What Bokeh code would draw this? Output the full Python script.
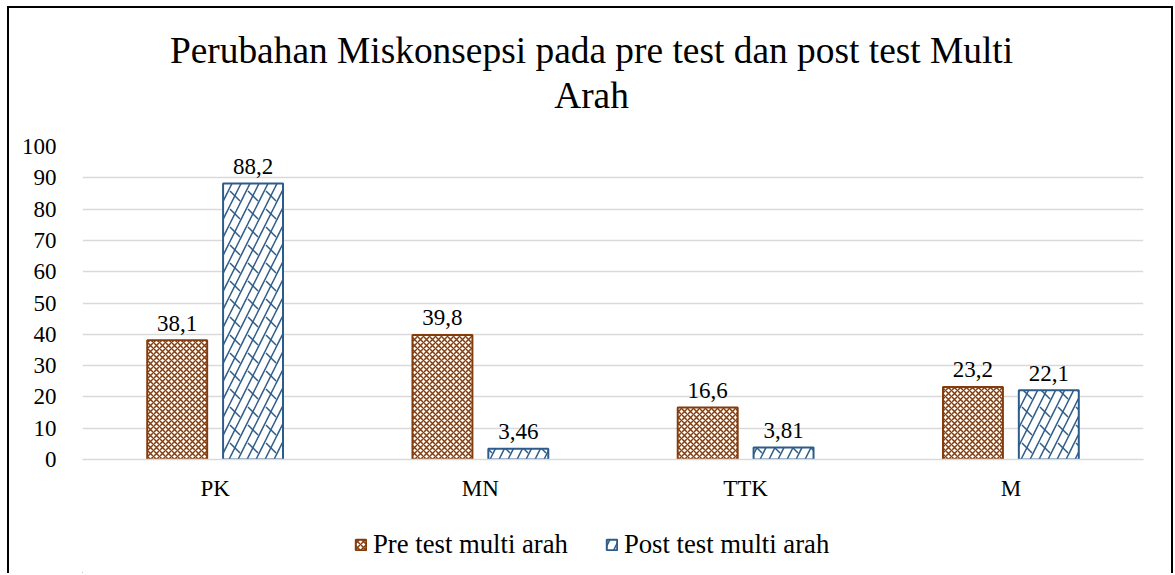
from bokeh.plotting import figure
from bokeh.layouts import column
from bokeh.models import FactorRange, Label, ColumnDataSource, Legend, LegendItem
from bokeh.transform import dodge
from bokeh.core.properties import value
from bokeh.embed import file_html
from bokeh.resources import INLINE

categories = ["PK", "MN", "TTK", "M"]
pre_test = [38.1, 39.8, 16.6, 23.2]
post_test = [88.2, 3.46, 3.81, 22.1]
series_names = ["Pre test multi arah", "Post test multi arah"]
title_lines = ["Perubahan Miskonsepsi pada pre test dan post test Multi", "Arah"]
y_ticks = [0, 10, 20, 30, 40, 50, 60, 70, 80, 90, 100]

FONT = "Liberation Serif"
PRE_C = "#843c0c"
POST_C = "#2e5c8a"
W = 1162

src = ColumnDataSource(dict(
    cat=categories,
    pre=pre_test,
    post=post_test,
    pre_lbl=[f"{v:g}".replace(".", ",") for v in pre_test],
    post_lbl=[f"{v:g}".replace(".", ",") for v in post_test],
))

pre_style = dict(fill_color="white", line_color=PRE_C, line_width=2,
                 hatch_pattern="diagonal_cross", hatch_color=PRE_C, hatch_scale=6,
                 hatch_weight=1.5)
post_style = dict(fill_color="white", line_color=POST_C, line_width=2,
                  hatch_pattern="right_diagonal_line", hatch_color=POST_C, hatch_scale=18,
                  hatch_weight=1.5)


def blank_fig(h):
    # strip whose frame is aligned with the chart frame (page x 82..1143)
    f = figure(width=W, height=h, x_range=(82, 1143), y_range=(0, h),
               x_axis_type=None, y_axis_type=None, output_backend="svg",
               toolbar_location=None, min_border=0)
    f.grid.visible = False
    f.outline_line_color = None
    return f


# ---- title strip ----
top = blank_fig(124)
top.add_layout(Label(x=591, y=82, text=title_lines[0], text_font=FONT,
                     text_font_size="37.4px", text_align="center",
                     text_baseline="alphabetic", text_color="#000000"))
top.add_layout(Label(x=591, y=37, text=title_lines[1], text_font=FONT,
                     text_font_size="37.4px", text_align="center",
                     text_baseline="alphabetic", text_color="#000000"))

# ---- main chart ----
p = figure(x_range=FactorRange(*categories, range_padding=0), y_range=(0, 100),
           frame_width=1061, frame_height=313, output_backend="svg", toolbar_location=None,
           min_border_left=73, min_border_right=28, min_border_top=14, min_border_bottom=47)

p.vbar(x=dodge("cat", -0.143, range=p.x_range), top="pre", width=0.226, source=src, **pre_style)
p.vbar(x=dodge("cat", 0.143, range=p.x_range), top="post", width=0.226, source=src, **post_style)
p.vbar(x=dodge("cat", 0.143, range=p.x_range), top="post", width=0.226, source=src,
       fill_alpha=0, line_alpha=0,
       hatch_pattern="left_diagonal_dash", hatch_color=POST_C, hatch_scale=18,
       hatch_weight=1.5)

p.text(x=dodge("cat", -0.143, range=p.x_range), y="pre", text="pre_lbl", source=src,
       text_font=value(FONT), text_font_size="23px", text_align="center",
       text_baseline="alphabetic", y_offset=-17, text_color="#000000")
p.text(x=dodge("cat", 0.143, range=p.x_range), y="post", text="post_lbl", source=src,
       text_font=value(FONT), text_font_size="23px", text_align="center",
       text_baseline="alphabetic", y_offset=-17, text_color="#000000")

p.yaxis.ticker = y_ticks
p.yaxis.axis_line_color = None
p.yaxis.major_tick_line_color = None
p.yaxis.minor_tick_line_color = None
p.yaxis.major_label_text_font = FONT
p.yaxis.major_label_text_font_size = "23px"
p.yaxis.major_label_text_color = "#000000"
p.yaxis.major_label_standoff = 20

p.xaxis.axis_line_color = "#d9d9d9"
p.xaxis.axis_line_width = 1.5
p.xaxis.major_tick_line_color = None
p.xaxis.minor_tick_line_color = None
p.xaxis.major_label_text_font = FONT
p.xaxis.major_label_text_font_size = "23px"
p.xaxis.major_label_text_color = "#000000"
p.xaxis.major_label_standoff = 10

p.xgrid.grid_line_color = None
p.ygrid.grid_line_color = "#d9d9d9"
p.ygrid.grid_line_width = 1.5
p.outline_line_color = None

# ---- legend strip (proxy renderers sit outside the visible range) ----
bot = blank_fig(67)
lg_pre = bot.vbar(x=[0], top=[-50], width=1, **pre_style)
lg_post = bot.vbar(x=[0], top=[-50], width=1, **post_style)
legend = Legend(items=[LegendItem(label=series_names[0], renderers=[lg_pre]),
                       LegendItem(label=series_names[1], renderers=[lg_post])],
                orientation="horizontal", location=(272, 13),
                label_text_font=FONT, label_text_font_size="26.7px", label_text_color="#000000",
                glyph_width=13, glyph_height=13, label_standoff=6, spacing=37,
                border_line_color=None, background_fill_alpha=0, margin=0, padding=4)
bot.add_layout(legend, "center")

layout = column(top, p, bot, spacing=0)
layout.styles = {"border-left": "2px solid black", "border-top": "2px solid black",
                 "border-right": "2px solid black", "margin-left": "7px", "margin-top": "6px"}

open("out.html", "w").write(file_html(layout, INLINE))
